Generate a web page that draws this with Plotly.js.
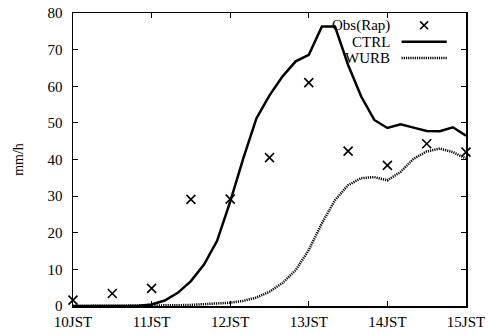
<!DOCTYPE html>
<html>
<head>
<meta charset="utf-8">
<script src="https://cdn.plot.ly/plotly-3.0.1.min.js"></script>
<style>html,body{margin:0;padding:0;background:#fff;}#chart{width:488px;height:335px;}</style>
</head>
<body>
<div id="chart"></div>
<script>
// Observations (every 30 min), hours JST
const obsTime = [10, 10.5, 11, 11.5, 12, 12.5, 13, 13.5, 14, 14.5, 15];
const obsRain = [1.6, 3.4, 4.8, 29.1, 29.2, 40.5, 61, 42.3, 38.4, 44.3, 42];

// Model output every 10 min
const modelTime = [10, 10.1667, 10.3333, 10.5, 10.6667, 10.8333,
  11, 11.1667, 11.3333, 11.5, 11.6667, 11.8333,
  12, 12.1667, 12.3333, 12.5, 12.6667, 12.8333,
  13, 13.1667, 13.3333, 13.5, 13.6667, 13.8333,
  14, 14.1667, 14.3333, 14.5, 14.6667, 14.8333, 15];
const ctrlRain = [0, 0, 0, 0, 0, 0.1,
  0.4, 1.5, 3.6, 6.8, 11.3, 17.8,
  28.5, 40.3, 51.2, 57.5, 62.7, 66.8,
  68.6, 76.3, 76.3, 65.8, 57.2, 50.8,
  48.6, 49.6, 48.7, 47.8, 47.7, 48.8, 46.5];
const wurbRain = [0, 0, 0, 0, 0, 0,
  0, 0.1, 0.2, 0.3, 0.5, 0.7,
  0.9, 1.4, 2.3, 3.9, 6.3, 9.8,
  15.3, 22.6, 28.9, 33.0, 34.9, 35.2,
  34.3, 36.6, 40.2, 42.2, 43.0, 42.0, 40.3];

const tickVals = [10, 11, 12, 13, 14, 15];
const tickText = ['10JST', '11JST', '12JST', '13JST', '14JST', '15JST'];
const yTicks = [0, 10, 20, 30, 40, 50, 60, 70, 80];

const font = {family: 'Liberation Serif, Times New Roman, serif', size: 15, color: '#000'};
const dotted = '1.2px,1px';

const traces = [
  {x: modelTime, y: ctrlRain, type: 'scatter', mode: 'lines', name: 'CTRL',
   line: {color: '#000', width: 2.5}, showlegend: false},
  {x: modelTime, y: wurbRain, type: 'scatter', mode: 'lines', name: 'WURB',
   line: {color: '#000', width: 2.5, dash: dotted}, showlegend: false},
  {x: obsTime, y: obsRain, type: 'scatter', mode: 'markers', name: 'Obs(Rap)',
   marker: {symbol: 'x-thin', size: 9, line: {color: '#000', width: 1.6}}, showlegend: false, cliponaxis: false}
];

const layout = {
  width: 488, height: 335,
  margin: {l: 73, r: 22, t: 12.5, b: 29, pad: 0},
  paper_bgcolor: '#fff', plot_bgcolor: '#fff',
  font: font,
  showlegend: false,
  xaxis: {
    range: [10, 15], tickvals: tickVals, ticktext: tickText,
    showline: true, linecolor: '#000', linewidth: 1.5, mirror: 'ticks',
    ticks: 'inside', ticklen: 5, tickcolor: '#000', tickwidth: 1,
    showgrid: false, zeroline: false, tickfont: font, ticklabelstandoff: 1
  },
  yaxis: {
    range: [0, 80], tickvals: yTicks,
    showline: true, linecolor: '#000', linewidth: 1.5, mirror: 'ticks',
    ticks: 'inside', ticklen: 5, tickcolor: '#000', tickwidth: 1,
    showgrid: false, zeroline: false, tickfont: font, ticklabelstandoff: 6,
    title: {text: 'mm/h', font: {family: font.family, size: 14, color: '#000'}, standoff: 20}
  },
  annotations: [
    {xref: 'paper', yref: 'paper', x: 0.811, y: 0.958, xanchor: 'right', yanchor: 'middle', text: 'Obs(Rap)', showarrow: false, font: font},
    {xref: 'paper', yref: 'paper', x: 0.811, y: 0.902, xanchor: 'right', yanchor: 'middle', text: 'CTRL', showarrow: false, font: font},
    {xref: 'paper', yref: 'paper', x: 0.811, y: 0.846, xanchor: 'right', yanchor: 'middle', text: 'WURB', showarrow: false, font: font}
  ],
  shapes: [
    {type: 'line', xref: 'paper', yref: 'paper', x0: 0.836, x1: 0.951, y0: 0.902, y1: 0.902, line: {color: '#000', width: 2.5}},
    {type: 'line', xref: 'paper', yref: 'paper', x0: 0.836, x1: 0.951, y0: 0.846, y1: 0.846, line: {color: '#000', width: 2.5, dash: dotted}},
    {type: 'path', xref: 'paper', yref: 'paper', path: 'M0.8832,0.9445 L0.9036,0.9715 M0.8832,0.9715 L0.9036,0.9445', line: {color: '#000', width: 1.6}}
  ]
};

Plotly.newPlot('chart', traces, layout, {staticPlot: true, displayModeBar: false});
</script>
</body>
</html>
